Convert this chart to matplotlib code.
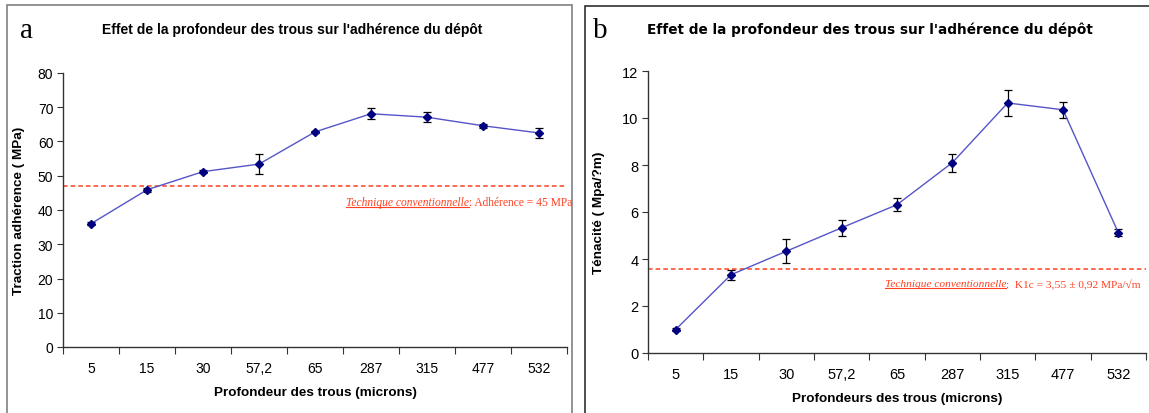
import numpy as np
import matplotlib.pyplot as plt
from matplotlib.patches import Rectangle
from matplotlib.lines import Line2D

depths = ["5", "15", "30", "57,2", "65", "287", "315", "477", "532"]

traction = [36.0, 45.9, 51.2, 53.4, 62.8, 68.1, 67.1, 64.6, 62.5]
traction_err = [0.4, 0.5, 0.5, 3.0, 0.4, 1.6, 1.5, 0.6, 1.5]
traction_ref = 47.0

tenacite = [1.0, 3.33, 4.33, 5.33, 6.31, 8.1, 10.64, 10.35, 5.12]
tenacite_err = [0.05, 0.22, 0.5, 0.35, 0.27, 0.38, 0.57, 0.34, 0.15]
tenacite_ref = 3.57

W, H = 1149, 414
fig = plt.figure(figsize=(W / 100, H / 100), dpi=100)

sans = ["Liberation Sans", "DejaVu Sans"]
serif = ["Liberation Serif", "DejaVu Serif"]
line_col = "#5555C8"
mark_col = "#000080"
red = "#FF4020"

# panel frames
fig.patches.append(Rectangle((7 / W, -0.01), (572 - 7) / W, (H - 6) / H + 0.01,
                             transform=fig.transFigure, fill=False,
                             edgecolor="#808080", lw=1.2))
fig.patches.append(Rectangle((585 / W, -0.01), 0.6, (H - 7) / H + 0.01,
                             transform=fig.transFigure, fill=False,
                             edgecolor="#303030", lw=1.2))


def make_panel(rect, vals, errs, ymax, ystep, ref):
    ax = fig.add_axes(rect)
    x = np.arange(len(depths)) + 0.5
    ax.plot(x, vals, color=line_col, lw=1.0, zorder=3)
    ax.errorbar(x, vals, yerr=errs, fmt="none", ecolor="black", elinewidth=0.9,
                capsize=3, capthick=0.9, zorder=2)
    ax.plot(x, vals, "D", color=mark_col, ms=4.5, zorder=4)
    ax.axhline(ref, color=red, ls=(0, (3, 2)), lw=1.1, zorder=1)
    ax.set_xlim(0, len(depths))
    ax.set_ylim(0, ymax)
    ax.set_yticks(np.arange(0, ymax + 0.1, ystep))
    ax.set_xticks(np.arange(len(depths) + 1))
    ax.set_xticklabels([])
    ax.set_xticks(x, minor=True)
    ax.set_xticklabels(depths, minor=True)
    ax.tick_params(axis="x", which="minor", length=0, pad=10)
    ax.tick_params(axis="x", which="major", length=5, color="#333333")
    ax.tick_params(axis="y", length=4, color="#333333", pad=3)
    for s in ["top", "right"]:
        ax.spines[s].set_visible(False)
    for s in ["left", "bottom"]:
        ax.spines[s].set_color("#333333")
        ax.spines[s].set_linewidth(1.0)
    return ax


ax1 = make_panel([63 / W, 66 / H, 504 / W, 274 / H], traction, traction_err, 80, 10, traction_ref)
ax2 = make_panel([648 / W, 60 / H, 498 / W, 282 / H], tenacite, tenacite_err, 12, 2, tenacite_ref)

for lab in ax1.get_xticklabels(minor=True) + ax1.get_yticklabels():
    lab.set_family(sans)
    lab.set_fontsize(10)
for lab in ax2.get_xticklabels(minor=True) + ax2.get_yticklabels():
    lab.set_family(sans)
    lab.set_fontsize(10.5)

ax1.set_ylabel("Traction adhérence ( MPa)", family=sans, fontweight="bold", fontsize=9.7)
ax2.set_ylabel("Ténacité ( Mpa/?m)", family=sans, fontweight="bold", fontsize=9.7)
ax1.yaxis.set_label_coords(-38 / 504, 0.5)
ax2.yaxis.set_label_coords(-43 / 498, 0.5)
ax1.set_xlabel("Profondeur des trous (microns)", family=sans, fontweight="bold", fontsize=9.7)
ax2.set_xlabel("Profondeurs des trous (microns)", family=sans, fontweight="bold", fontsize=9.7)
ax1.xaxis.set_label_coords(0.5, -39 / 274)
ax2.xaxis.set_label_coords(0.5, -39 / 282)

fig.text(292 / W, 1 - 30 / H, "Effet de la profondeur des trous sur l'adhérence du dépôt",
         family=sans, fontweight="bold", fontsize=10, ha="center", va="center")
fig.text(870 / W, 1 - 30 / H, "Effet de la profondeur des trous sur l'adhérence du dépôt",
         family=["DejaVu Sans"], fontweight="bold", fontsize=9.8, ha="center", va="center")

fig.text(20 / W, 1 - 31 / H, "a", family=serif, fontsize=21, ha="left", va="center")
fig.text(593 / W, 1 - 31 / H, "b", family=serif, fontsize=21, ha="left", va="center")

# red annotations
fig.canvas.draw()
renderer = fig.canvas.get_renderer()


def ref_note(x_px, y_px, rest, size):
    t1 = fig.text(x_px / W, 1 - y_px / H, "Technique conventionnelle", family=serif,
                  style="italic", fontsize=size, color=red, ha="left", va="center")
    bb = t1.get_window_extent(renderer)
    fig.text(bb.x1 / W, 1 - y_px / H, rest, family=serif, fontsize=size, color=red,
             ha="left", va="center")
    fig.add_artist(Line2D([bb.x0 / W, bb.x1 / W], [(bb.y0 + 1) / H, (bb.y0 + 1) / H],
                          transform=fig.transFigure, color=red, lw=0.8))


ref_note(346, 203, ": Adhérence = 45 MPa", 8.3)
ref_note(885, 285, ":  K1c = 3,55 ± 0,92 MPa/√m", 8.2)

fig.savefig("out.png", dpi=100)
